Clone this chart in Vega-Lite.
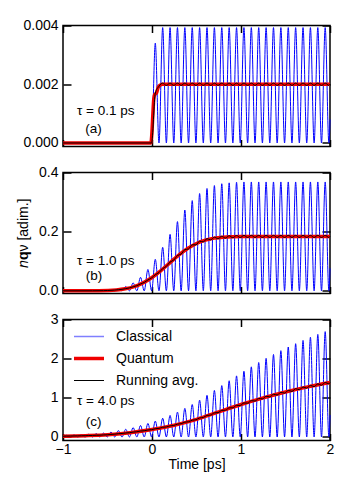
{
"$schema": "https://vega.github.io/schema/vega-lite/v6.json",
"padding": {"left": 15, "top": 17.5, "right": 5, "bottom": 5},
"background": "white",
"spacing": 26,
"bounds": "flush",
"config": {
 "font": "Liberation Sans",
 "view": {"stroke": "black", "strokeWidth": 1.5},
 "axis": {"domain": false, "grid": false, "tickSize": -8, "tickWidth": 1.5, "tickColor": "black", "labelFont": "Liberation Sans", "labelFontSize": 14, "labelColor": "black", "labelPadding": 13, "labelFlush": false, "labelOverlap": false, "titleFont": "Liberation Sans", "titleFontSize": 14, "titleFontWeight": "normal", "titleColor": "black"},
 "axisX": {"tickSize": -7},
 "line": {"interpolate": "monotone"},
 "text": {"fontSize": 13.5, "color": "black", "font": "Liberation Sans"}
},
"resolve": {"scale": {"color": "independent"}, "legend": {"color": "independent"}},
"datasets": {
"cl": [
{"p":"a","t":-1,"c":0,"k":0},
{"p":"a","t":-0.0045,"c":0,"k":0},
{"p":"a","t":0.037,"c":0.0034,"k":0.0017},
{"p":"a","t":0.0785,"c":0,"k":0.00193},
{"p":"a","t":0.12,"c":0.00393,"k":0.00204},
{"p":"a","t":0.1615,"c":0,"k":0.00196},
{"p":"a","t":0.203,"c":0.00393,"k":0.00204},
{"p":"a","t":0.2445,"c":0,"k":0.00196},
{"p":"a","t":0.286,"c":0.00393,"k":0.00204},
{"p":"a","t":0.3275,"c":0,"k":0.00196},
{"p":"a","t":0.369,"c":0.00393,"k":0.00204},
{"p":"a","t":0.4105,"c":0,"k":0.00196},
{"p":"a","t":0.452,"c":0.00393,"k":0.00204},
{"p":"a","t":0.4935,"c":0,"k":0.00196},
{"p":"a","t":0.535,"c":0.00393,"k":0.00204},
{"p":"a","t":0.5765,"c":0,"k":0.00196},
{"p":"a","t":0.618,"c":0.00393,"k":0.00204},
{"p":"a","t":0.6595,"c":0,"k":0.00196},
{"p":"a","t":0.701,"c":0.00393,"k":0.00204},
{"p":"a","t":0.7425,"c":0,"k":0.00196},
{"p":"a","t":0.784,"c":0.00393,"k":0.00204},
{"p":"a","t":0.8255,"c":0,"k":0.00196},
{"p":"a","t":0.867,"c":0.00393,"k":0.00204},
{"p":"a","t":0.9085,"c":0,"k":0.00196},
{"p":"a","t":0.95,"c":0.00393,"k":0.00204},
{"p":"a","t":0.9915,"c":0,"k":0.00196},
{"p":"a","t":1.033,"c":0.00393,"k":0.00204},
{"p":"a","t":1.0745,"c":0,"k":0.00196},
{"p":"a","t":1.116,"c":0.00393,"k":0.00204},
{"p":"a","t":1.1575,"c":0,"k":0.00196},
{"p":"a","t":1.199,"c":0.00393,"k":0.00204},
{"p":"a","t":1.2405,"c":0,"k":0.00196},
{"p":"a","t":1.282,"c":0.00393,"k":0.00204},
{"p":"a","t":1.3235,"c":0,"k":0.00196},
{"p":"a","t":1.365,"c":0.00393,"k":0.00204},
{"p":"a","t":1.4065,"c":0,"k":0.00196},
{"p":"a","t":1.448,"c":0.00393,"k":0.00204},
{"p":"a","t":1.4895,"c":0,"k":0.00196},
{"p":"a","t":1.531,"c":0.00393,"k":0.00204},
{"p":"a","t":1.5725,"c":0,"k":0.00196},
{"p":"a","t":1.614,"c":0.00393,"k":0.00204},
{"p":"a","t":1.6555,"c":0,"k":0.00196},
{"p":"a","t":1.697,"c":0.00393,"k":0.00204},
{"p":"a","t":1.7385,"c":0,"k":0.00196},
{"p":"a","t":1.78,"c":0.00393,"k":0.00204},
{"p":"a","t":1.8215,"c":0,"k":0.00196},
{"p":"a","t":1.863,"c":0.00393,"k":0.00204},
{"p":"a","t":1.9045,"c":0,"k":0.00196},
{"p":"a","t":1.946,"c":0.00393,"k":0.00204},
{"p":"a","t":1.9875,"c":0,"k":0.00196},
{"p":"a","t":2.0,"c":0.0008,"k":0.002},
{"p":"b","t":-1,"c":0,"k":0},
{"p":"b","t":-0.6685,"c":0,"k":0.0002},
{"p":"b","t":-0.544,"c":0.0014,"k":0.0007},
{"p":"b","t":-0.5025,"c":0,"k":0.0011},
{"p":"b","t":-0.461,"c":0.0034,"k":0.0017},
{"p":"b","t":-0.4195,"c":0,"k":0.0026},
{"p":"b","t":-0.378,"c":0.0074,"k":0.0038},
{"p":"b","t":-0.3365,"c":0,"k":0.0052},
{"p":"b","t":-0.295,"c":0.0146,"k":0.0074},
{"p":"b","t":-0.2535,"c":0,"k":0.01},
{"p":"b","t":-0.212,"c":0.0268,"k":0.0137},
{"p":"b","t":-0.1705,"c":0,"k":0.0174},
{"p":"b","t":-0.129,"c":0.0456,"k":0.0233},
{"p":"b","t":-0.0875,"c":0,"k":0.0284},
{"p":"b","t":-0.046,"c":0.0722,"k":0.0368},
{"p":"b","t":-0.0045,"c":0,"k":0.0436},
{"p":"b","t":0.037,"c":0.1066,"k":0.0544},
{"p":"b","t":0.0785,"c":0,"k":0.0619},
{"p":"b","t":0.12,"c":0.1472,"k":0.0751},
{"p":"b","t":0.1615,"c":0,"k":0.0828},
{"p":"b","t":0.203,"c":0.1908,"k":0.0973},
{"p":"b","t":0.2445,"c":0,"k":0.1041},
{"p":"b","t":0.286,"c":0.234,"k":0.1193},
{"p":"b","t":0.3275,"c":0,"k":0.1243},
{"p":"b","t":0.369,"c":0.273,"k":0.1392},
{"p":"b","t":0.4105,"c":0,"k":0.1416},
{"p":"b","t":0.452,"c":0.305,"k":0.1556},
{"p":"b","t":0.4935,"c":0,"k":0.1554},
{"p":"b","t":0.535,"c":0.329,"k":0.1679},
{"p":"b","t":0.5765,"c":0,"k":0.1654},
{"p":"b","t":0.618,"c":0.346,"k":0.1764},
{"p":"b","t":0.6595,"c":0,"k":0.172},
{"p":"b","t":0.701,"c":0.356,"k":0.1817},
{"p":"b","t":0.7425,"c":0,"k":0.176},
{"p":"b","t":0.784,"c":0.362,"k":0.1847},
{"p":"b","t":0.8255,"c":0,"k":0.1783},
{"p":"b","t":0.867,"c":0.365,"k":0.1864},
{"p":"b","t":0.9085,"c":0,"k":0.1794},
{"p":"b","t":0.95,"c":0.367,"k":0.1872},
{"p":"b","t":0.9915,"c":0,"k":0.18},
{"p":"b","t":1.033,"c":0.368,"k":0.1877},
{"p":"b","t":1.0745,"c":0,"k":0.1803},
{"p":"b","t":1.116,"c":0.368,"k":0.1877},
{"p":"b","t":1.1575,"c":0,"k":0.1803},
{"p":"b","t":1.199,"c":0.368,"k":0.1877},
{"p":"b","t":1.2405,"c":0,"k":0.1803},
{"p":"b","t":1.282,"c":0.368,"k":0.1877},
{"p":"b","t":1.3235,"c":0,"k":0.1803},
{"p":"b","t":1.365,"c":0.368,"k":0.1877},
{"p":"b","t":1.4065,"c":0,"k":0.1803},
{"p":"b","t":1.448,"c":0.368,"k":0.1877},
{"p":"b","t":1.4895,"c":0,"k":0.1803},
{"p":"b","t":1.531,"c":0.368,"k":0.1877},
{"p":"b","t":1.5725,"c":0,"k":0.1803},
{"p":"b","t":1.614,"c":0.368,"k":0.1877},
{"p":"b","t":1.6555,"c":0,"k":0.1803},
{"p":"b","t":1.697,"c":0.368,"k":0.1877},
{"p":"b","t":1.7385,"c":0,"k":0.1803},
{"p":"b","t":1.78,"c":0.368,"k":0.1877},
{"p":"b","t":1.8215,"c":0,"k":0.1803},
{"p":"b","t":1.863,"c":0.368,"k":0.1877},
{"p":"b","t":1.9045,"c":0,"k":0.1803},
{"p":"b","t":1.946,"c":0.368,"k":0.1877},
{"p":"b","t":1.9875,"c":0,"k":0.1803},
{"p":"b","t":2.0,"c":0.076,"k":0.184},
{"p":"c","t":-1,"c":0,"k":0.0196},
{"p":"c","t":-0.959,"c":0.043,"k":0.0224},
{"p":"c","t":-0.9175,"c":0,"k":0.0235},
{"p":"c","t":-0.876,"c":0.051,"k":0.0265},
{"p":"c","t":-0.8345,"c":0,"k":0.0274},
{"p":"c","t":-0.793,"c":0.059,"k":0.0306},
{"p":"c","t":-0.7515,"c":0,"k":0.0323},
{"p":"c","t":-0.71,"c":0.071,"k":0.0367},
{"p":"c","t":-0.6685,"c":0,"k":0.0387},
{"p":"c","t":-0.627,"c":0.085,"k":0.0439},
{"p":"c","t":-0.5855,"c":0,"k":0.0461},
{"p":"c","t":-0.544,"c":0.1,"k":0.052},
{"p":"c","t":-0.5025,"c":0,"k":0.0564},
{"p":"c","t":-0.461,"c":0.126,"k":0.0653},
{"p":"c","t":-0.4195,"c":0,"k":0.0715},
{"p":"c","t":-0.378,"c":0.162,"k":0.0836},
{"p":"c","t":-0.3365,"c":0,"k":0.0892},
{"p":"c","t":-0.295,"c":0.197,"k":0.102},
{"p":"c","t":-0.2535,"c":0,"k":0.1088},
{"p":"c","t":-0.212,"c":0.24,"k":0.1244},
{"p":"c","t":-0.1705,"c":0,"k":0.1328},
{"p":"c","t":-0.129,"c":0.294,"k":0.152},
{"p":"c","t":-0.0875,"c":0,"k":0.1588},
{"p":"c","t":-0.046,"c":0.345,"k":0.1785},
{"p":"c","t":-0.0045,"c":0,"k":0.1867},
{"p":"c","t":0.037,"c":0.406,"k":0.2101},
{"p":"c","t":0.0785,"c":0,"k":0.22},
{"p":"c","t":0.12,"c":0.479,"k":0.2479},
{"p":"c","t":0.1615,"c":0,"k":0.2558},
{"p":"c","t":0.203,"c":0.55,"k":0.2846},
{"p":"c","t":0.2445,"c":0,"k":0.2945},
{"p":"c","t":0.286,"c":0.634,"k":0.3284},
{"p":"c","t":0.3275,"c":0,"k":0.3396},
{"p":"c","t":0.369,"c":0.731,"k":0.3784},
{"p":"c","t":0.4105,"c":0,"k":0.3881},
{"p":"c","t":0.452,"c":0.829,"k":0.4294},
{"p":"c","t":0.4935,"c":0,"k":0.44},
{"p":"c","t":0.535,"c":0.94,"k":0.4865},
{"p":"c","t":0.5765,"c":0,"k":0.4983},
{"p":"c","t":0.618,"c":1.064,"k":0.5508},
{"p":"c","t":0.6595,"c":0,"k":0.5601},
{"p":"c","t":0.701,"c":1.188,"k":0.6151},
{"p":"c","t":0.7425,"c":0,"k":0.6218},
{"p":"c","t":0.784,"c":1.312,"k":0.6793},
{"p":"c","t":0.8255,"c":0,"k":0.6836},
{"p":"c","t":0.867,"c":1.436,"k":0.7436},
{"p":"c","t":0.9085,"c":0,"k":0.7453},
{"p":"c","t":0.95,"c":1.56,"k":0.8078},
{"p":"c","t":0.9915,"c":0,"k":0.8056},
{"p":"c","t":1.033,"c":1.678,"k":0.869},
{"p":"c","t":1.0745,"c":0,"k":0.8629},
{"p":"c","t":1.116,"c":1.791,"k":0.9272},
{"p":"c","t":1.1575,"c":0,"k":0.9183},
{"p":"c","t":1.199,"c":1.901,"k":0.9843},
{"p":"c","t":1.2405,"c":0,"k":0.9722},
{"p":"c","t":1.282,"c":2.007,"k":1.0394},
{"p":"c","t":1.3235,"c":0,"k":1.0231},
{"p":"c","t":1.365,"c":2.106,"k":1.0904},
{"p":"c","t":1.4065,"c":0,"k":1.0721},
{"p":"c","t":1.448,"c":2.204,"k":1.1414},
{"p":"c","t":1.4895,"c":0,"k":1.1197},
{"p":"c","t":1.531,"c":2.297,"k":1.1893},
{"p":"c","t":1.5725,"c":0,"k":1.1638},
{"p":"c","t":1.614,"c":2.382,"k":1.2332},
{"p":"c","t":1.6555,"c":0,"k":1.2059},
{"p":"c","t":1.697,"c":2.466,"k":1.277},
{"p":"c","t":1.7385,"c":0,"k":1.2471},
{"p":"c","t":1.78,"c":2.547,"k":1.3189},
{"p":"c","t":1.8215,"c":0,"k":1.2853},
{"p":"c","t":1.863,"c":2.62,"k":1.3566},
{"p":"c","t":1.9045,"c":0,"k":1.321},
{"p":"c","t":1.946,"c":2.691,"k":1.3933},
{"p":"c","t":1.9875,"c":0,"k":1.3553},
{"p":"c","t":2.0,"c":0.56,"k":1.39}
],
"qu": [
{"p":"a","t":-1,"q":0},
{"p":"a","t":-0.012,"q":0},
{"p":"a","t":0,"q":0.0004},
{"p":"a","t":0.01,"q":0.001},
{"p":"a","t":0.02,"q":0.0015},
{"p":"a","t":0.03,"q":0.00165},
{"p":"a","t":0.05,"q":0.0017},
{"p":"a","t":0.07,"q":0.0019},
{"p":"a","t":0.09,"q":0.00197},
{"p":"a","t":0.12,"q":0.002},
{"p":"a","t":2,"q":0.002},
{"p":"b","t":-1,"q":0},
{"p":"b","t":-0.8,"q":0},
{"p":"b","t":-0.6,"q":0.0004},
{"p":"b","t":-0.4,"q":0.003},
{"p":"b","t":-0.3,"q":0.0069},
{"p":"b","t":-0.2,"q":0.0145},
{"p":"b","t":-0.1,"q":0.027},
{"p":"b","t":0,"q":0.0452},
{"p":"b","t":0.1,"q":0.0685},
{"p":"b","t":0.2,"q":0.0947},
{"p":"b","t":0.3,"q":0.1205},
{"p":"b","t":0.4,"q":0.1429},
{"p":"b","t":0.5,"q":0.16},
{"p":"b","t":0.6,"q":0.1714},
{"p":"b","t":0.7,"q":0.1781},
{"p":"b","t":0.8,"q":0.1815},
{"p":"b","t":0.9,"q":0.1831},
{"p":"b","t":1.0,"q":0.1837},
{"p":"b","t":1.2,"q":0.184},
{"p":"b","t":2,"q":0.184},
{"p":"c","t":-1,"q":0.02},
{"p":"c","t":-0.75,"q":0.032},
{"p":"c","t":-0.5,"q":0.055},
{"p":"c","t":-0.25,"q":0.11},
{"p":"c","t":0,"q":0.19},
{"p":"c","t":0.25,"q":0.3},
{"p":"c","t":0.5,"q":0.45},
{"p":"c","t":0.75,"q":0.64},
{"p":"c","t":1.0,"q":0.83},
{"p":"c","t":1.25,"q":1.0},
{"p":"c","t":1.5,"q":1.15},
{"p":"c","t":1.75,"q":1.28},
{"p":"c","t":2.0,"q":1.39}
]
},
"vconcat": [
{
 "width": 267, "height": 121,
 "resolve": {"axis": {"x": "independent", "y": "independent"}},
 "layer": [
  {"data": {"name": "cl"}, "transform": [{"filter": "datum.p === 'a'"}],
   "mark": {"type": "line", "color": "#0000ff", "strokeWidth": 1},
   "encoding": {
    "x": {"field": "t", "type": "quantitative", "scale": {"domain": [-1, 2], "nice": false, "zero": false}, "axis": {"values": [-1, 0, 1, 2], "labels": false, "title": null}},
    "y": {"field": "c", "type": "quantitative", "scale": {"domain": [-0.00012, 0.004], "nice": false, "zero": false}, "axis": {"values": [0, 0.002, 0.004], "format": ".3f", "title": null}}
   }},
  {"data": {"name": "qu"}, "transform": [{"filter": "datum.p === 'a'"}],
   "mark": {"type": "line", "color": "#f00000", "strokeWidth": 3.5},
   "encoding": {
    "x": {"field": "t", "type": "quantitative", "axis": {"orient": "top", "values": [-1, 0, 1, 2], "labels": false, "title": null}},
    "y": {"field": "q", "type": "quantitative", "axis": {"orient": "right", "values": [0, 0.002, 0.004], "labels": false, "title": null}}
   }},
  {"data": {"name": "cl"}, "transform": [{"filter": "datum.p === 'a'"}],
   "mark": {"type": "line", "color": "#000000", "strokeWidth": 1},
   "encoding": {
    "x": {"field": "t", "type": "quantitative", "axis": null},
    "y": {"field": "k", "type": "quantitative", "axis": null}
   }},
  {"data": {"values": [{}]}, "mark": {"type": "text", "text": "τ = 0.1 ps"},
   "encoding": {"x": {"datum": -0.52, "type": "quantitative", "axis": null}, "y": {"datum": 0.0011, "type": "quantitative", "axis": null}}},
  {"data": {"values": [{}]}, "mark": {"type": "text", "text": "(a)"},
   "encoding": {"x": {"datum": -0.657, "type": "quantitative", "axis": null}, "y": {"datum": 0.00048, "type": "quantitative", "axis": null}}}
 ]
},
{
 "width": 267, "height": 121,
 "resolve": {"axis": {"x": "independent", "y": "independent"}},
 "layer": [
  {"data": {"name": "cl"}, "transform": [{"filter": "datum.p === 'b'"}],
   "mark": {"type": "line", "color": "#0000ff", "strokeWidth": 1},
   "encoding": {
    "x": {"field": "t", "type": "quantitative", "scale": {"domain": [-1, 2], "nice": false, "zero": false}, "axis": {"values": [-1, 0, 1, 2], "labels": false, "title": null}},
    "y": {"field": "c", "type": "quantitative", "scale": {"domain": [-0.009, 0.4], "nice": false, "zero": false}, "axis": {"values": [0, 0.2, 0.4], "format": ".1f", "title": "𝑛𝐪ν [adim.]", "titlePadding": 8}}
   }},
  {"data": {"name": "qu"}, "transform": [{"filter": "datum.p === 'b'"}],
   "mark": {"type": "line", "color": "#f00000", "strokeWidth": 3.5},
   "encoding": {
    "x": {"field": "t", "type": "quantitative", "axis": {"orient": "top", "values": [-1, 0, 1, 2], "labels": false, "title": null}},
    "y": {"field": "q", "type": "quantitative", "axis": {"orient": "right", "values": [0, 0.2, 0.4], "labels": false, "title": null}}
   }},
  {"data": {"name": "cl"}, "transform": [{"filter": "datum.p === 'b'"}],
   "mark": {"type": "line", "color": "#000000", "strokeWidth": 1},
   "encoding": {
    "x": {"field": "t", "type": "quantitative", "axis": null},
    "y": {"field": "k", "type": "quantitative", "axis": null}
   }},
  {"data": {"values": [{}]}, "mark": {"type": "text", "text": "τ = 1.0 ps"},
   "encoding": {"x": {"datum": -0.52, "type": "quantitative", "axis": null}, "y": {"datum": 0.1, "type": "quantitative", "axis": null}}},
  {"data": {"values": [{}]}, "mark": {"type": "text", "text": "(b)"},
   "encoding": {"x": {"datum": -0.652, "type": "quantitative", "axis": null}, "y": {"datum": 0.051, "type": "quantitative", "axis": null}}}
 ]
},
{
 "width": 267, "height": 121,
 "resolve": {"axis": {"x": "independent", "y": "independent"}},
 "layer": [
  {"data": {"name": "cl"}, "transform": [{"filter": "datum.p === 'c'"}],
   "mark": {"type": "line", "strokeWidth": 1},
   "encoding": {
    "x": {"field": "t", "type": "quantitative", "scale": {"domain": [-1, 2], "nice": false, "zero": false}, "axis": {"values": [-1, 0, 1, 2], "format": "d", "labelPadding": 9, "title": "Time [ps]", "titlePadding": 1}},
    "y": {"field": "c", "type": "quantitative", "scale": {"domain": [-0.09, 3], "nice": false, "zero": false}, "axis": {"values": [0, 1, 2, 3], "format": "d", "title": null}},
    "color": {"datum": "Classical", "type": "nominal", "scale": {"domain": ["Classical", "Quantum", "Running avg."], "range": ["#0000ff", "#f00000", "#000000"]},
     "legend": {"title": null, "orient": "none", "legendX": 19, "legendY": 10, "symbolType": "stroke", "symbolSize": 900, "labelFont": "Liberation Sans", "labelFontSize": 14, "labelColor": "black", "labelOffset": 20, "rowPadding": 8, "padding": 0,
      "encode": {"symbols": {"update": {"strokeWidth": {"signal": "datum.value === 'Quantum' ? 3.5 : (datum.value === 'Classical' ? 1.5 : 1)"}, "strokeOpacity": {"signal": "datum.value === 'Classical' ? 0.5 : 1"}}}}}}
   }},
  {"data": {"name": "qu"}, "transform": [{"filter": "datum.p === 'c'"}],
   "mark": {"type": "line", "strokeWidth": 3.5},
   "encoding": {
    "x": {"field": "t", "type": "quantitative", "axis": {"orient": "top", "values": [-1, 0, 1, 2], "labels": false, "title": null}},
    "y": {"field": "q", "type": "quantitative", "axis": {"orient": "right", "values": [0, 1, 2, 3], "labels": false, "title": null}},
    "color": {"datum": "Quantum", "type": "nominal"}
   }},
  {"data": {"name": "cl"}, "transform": [{"filter": "datum.p === 'c'"}],
   "mark": {"type": "line", "strokeWidth": 1},
   "encoding": {
    "x": {"field": "t", "type": "quantitative", "axis": null},
    "y": {"field": "k", "type": "quantitative", "axis": null},
    "color": {"datum": "Running avg.", "type": "nominal"}
   }},
  {"data": {"values": [{}]}, "mark": {"type": "text", "text": "τ = 4.0 ps"},
   "encoding": {"x": {"datum": -0.52, "type": "quantitative", "axis": null}, "y": {"datum": 0.92, "type": "quantitative", "axis": null}}},
  {"data": {"values": [{}]}, "mark": {"type": "text", "text": "(c)"},
   "encoding": {"x": {"datum": -0.657, "type": "quantitative", "axis": null}, "y": {"datum": 0.39, "type": "quantitative", "axis": null}}}
 ]
}
]
}
